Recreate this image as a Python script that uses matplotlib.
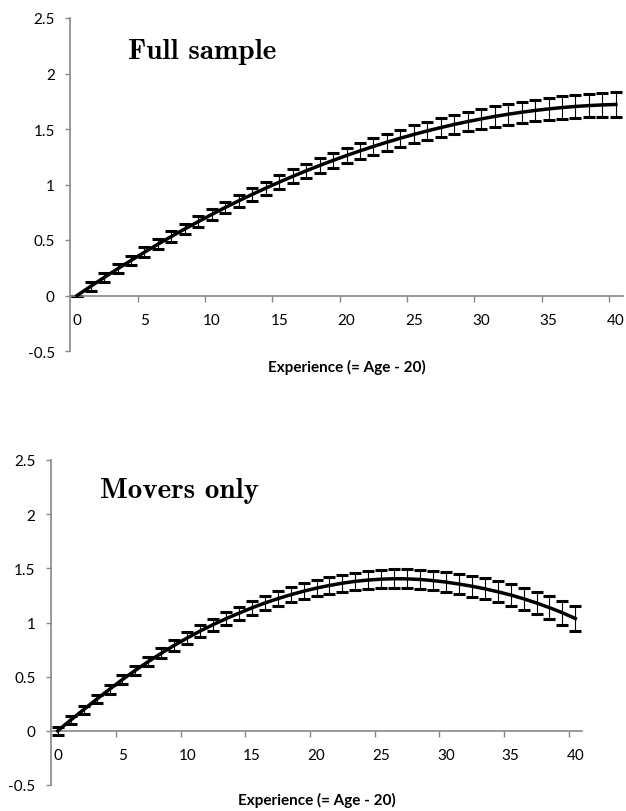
import matplotlib
matplotlib.use("Agg")
import matplotlib.pyplot as plt
from matplotlib.ticker import FixedLocator

# ---------------- data ----------------
experience = list(range(41))

full_est = [0.000, 0.082, 0.162, 0.240, 0.316, 0.390, 0.462, 0.532, 0.600, 0.666,
            0.730, 0.793, 0.853, 0.911, 0.967, 1.021, 1.073, 1.123, 1.171, 1.217,
            1.261, 1.303, 1.343, 1.381, 1.417, 1.451, 1.483, 1.513, 1.541, 1.567,
            1.591, 1.613, 1.633, 1.651, 1.667, 1.681, 1.693, 1.703, 1.711, 1.717,
            1.721]
full_se = [0.000, 0.037, 0.039, 0.041, 0.043, 0.044, 0.046, 0.047, 0.048, 0.050,
           0.051, 0.053, 0.056, 0.058, 0.060, 0.062, 0.063, 0.065, 0.066, 0.068,
           0.069, 0.071, 0.073, 0.075, 0.078, 0.081, 0.082, 0.084, 0.086, 0.087,
           0.089, 0.091, 0.093, 0.095, 0.097, 0.099, 0.101, 0.104, 0.106, 0.108,
           0.111]

movers_est = [0.000, 0.100, 0.196, 0.291, 0.384, 0.474, 0.559, 0.640, 0.716, 0.789,
              0.857, 0.921, 0.980, 1.035, 1.086, 1.135, 1.180, 1.220, 1.256, 1.289,
              1.318, 1.342, 1.363, 1.380, 1.392, 1.400, 1.404, 1.403, 1.397, 1.387,
              1.373, 1.355, 1.335, 1.311, 1.284, 1.254, 1.219, 1.180, 1.137, 1.090,
              1.037]
movers_se = [0.034, 0.035, 0.036, 0.038, 0.040, 0.042, 0.044, 0.046, 0.048, 0.050,
             0.052, 0.054, 0.056, 0.059, 0.061, 0.063, 0.066, 0.068, 0.070, 0.073,
             0.075, 0.077, 0.079, 0.081, 0.083, 0.085, 0.087, 0.088, 0.089, 0.091,
             0.092, 0.094, 0.095, 0.097, 0.099, 0.101, 0.102, 0.104, 0.107, 0.110,
             0.113]

xtick_values = [0, 5, 10, 15, 20, 25, 30, 35, 40]
xtick_labels = ["0", "5", "10", "15", "20", "25", "30", "35", "40"]
ytick_values = [-0.5, 0, 0.5, 1, 1.5, 2, 2.5]
ytick_labels = ["-0.5", "0", "0.5", "1", "1.5", "2", "2.5"]

titles = ["Full sample", "Movers only"]
xlabel = "Experience (= Age - 20)"

# ---------------- style ----------------
W, H = 626, 812
AXIS_GRAY = "#888888"
TICK_FONT = "Lato"

fig = plt.figure(figsize=(W / 100, H / 100), dpi=100)


def px_axes(left, right, top, bottom):
    return fig.add_axes([left / W, 1 - bottom / H, (right - left) / W, (bottom - top) / H])


def draw(ax, est, se):
    ax.errorbar(experience, est, yerr=se, fmt="none", ecolor="black",
                elinewidth=0.8, capsize=4.0, capthick=2.2, zorder=2)
    ax.plot(experience, est, color="black", lw=2.5, zorder=3,
            solid_joinstyle="round")
    ax.set_xlim(-0.5, 40.5)
    ax.set_ylim(-0.5, 2.5)
    for s in ["top", "right"]:
        ax.spines[s].set_visible(False)
    ax.spines["bottom"].set_position(("data", 0))
    for s in ["bottom", "left"]:
        ax.spines[s].set_color(AXIS_GRAY)
        ax.spines[s].set_linewidth(1.2)
    ax.set_xticks(xtick_values)
    ax.set_xticklabels(xtick_labels, fontfamily=TICK_FONT, fontsize=11)
    ax.xaxis.set_minor_locator(FixedLocator([v - 0.5 for v in xtick_values[1:]]))
    ax.tick_params(axis="x", which="major", length=0, pad=12.5)
    ax.tick_params(axis="x", which="minor", length=4.2, width=1.0,
                   color=AXIS_GRAY, direction="out")
    ax.set_yticks(ytick_values)
    ax.set_yticklabels(ytick_labels, fontfamily=TICK_FONT, fontsize=11)
    ax.tick_params(axis="y", length=3.8, width=1.0, color=AXIS_GRAY, pad=7.5)
    ax.patch.set_alpha(0)


ax1 = px_axes(70.4, 622.6, 19.0, 352.0)
draw(ax1, full_est, full_se)
ax2 = px_axes(51.3, 581.8, 461.0, 786.0)
draw(ax2, movers_est, movers_se)

fig.text(202 / W, 1 - 59.3 / H, titles[0], ha="center", va="baseline",
         fontfamily="cmb10", fontsize=21)
fig.text(180 / W, 1 - 498.3 / H, titles[1], ha="center", va="baseline",
         fontfamily="cmb10", fontsize=21)

fig.text(346.5 / W, 1 - 367 / H, xlabel, ha="center", va="center",
         fontfamily=TICK_FONT, fontweight="bold", fontsize=11)
fig.text(316.5 / W, 1 - 800 / H, xlabel, ha="center", va="center",
         fontfamily=TICK_FONT, fontweight="bold", fontsize=11)

fig.savefig("out.png", dpi=100)
